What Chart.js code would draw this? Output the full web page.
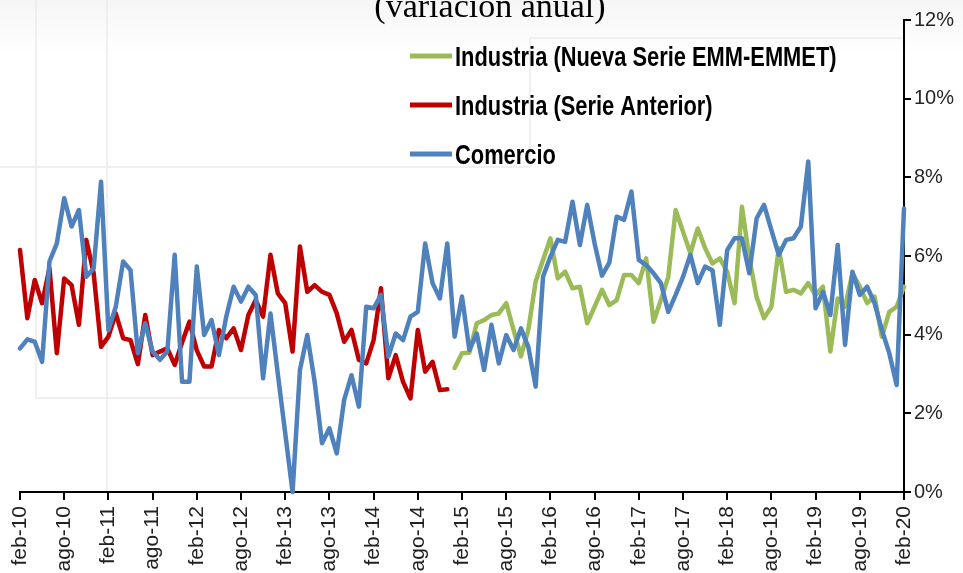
<!DOCTYPE html>
<html>
<head>
<meta charset="utf-8">
<script src="https://cdn.jsdelivr.net/npm/chart.js@4.4.1/dist/chart.umd.min.js"></script>
<style>
  html, body { margin: 0; padding: 0; background: #fff; overflow: hidden; }
  #grafico { display: block; }
</style>
</head>
<body>
<canvas id="grafico" width="963" height="573"></canvas>
<script>
const titulo = "(variación anual)";
const meses = ["ene", "feb", "mar", "abr", "may", "jun", "jul", "ago", "sep", "oct", "nov", "dic"];

// series mensuales desde feb-10
const comercio = [
    3.65, 3.88, 3.82, 3.31, 5.86, 6.32, 7.47, 6.75, 7.17, 5.47,
    5.69, 7.89, 4.12, 4.71, 5.86, 5.64, 3.53, 4.29, 3.57, 3.36,
    3.57, 6.03, 2.80, 2.80, 5.73, 3.99, 4.37, 3.48, 4.46, 5.22,
    4.84, 5.22, 5.01, 2.89, 4.54, 3.00, 1.50, 0.00, 3.10, 3.99,
    2.80, 1.24, 1.62, 0.98, 2.34, 2.97, 2.17, 4.71, 4.67, 5.01,
    3.44, 4.03, 3.86, 4.46, 4.58, 6.32, 5.31, 4.92, 6.32, 3.95,
    4.97, 3.61, 4.03, 3.10, 4.25, 3.27, 3.99, 3.61, 4.16, 3.69,
    2.68, 5.47, 5.98, 6.41, 6.36, 7.38, 6.28, 7.30, 6.32, 5.50,
    5.83, 7.00, 6.92, 7.64, 5.90, 5.77, 5.56, 5.31, 4.58, 5.01,
    5.47, 6.03, 5.31, 5.73, 5.64, 4.25, 6.15, 6.45, 6.45, 5.56,
    6.96, 7.30, 6.66, 6.03, 6.41, 6.45, 6.75, 8.40, 4.67, 5.09,
    4.50, 6.28, 3.74, 5.60, 5.01, 5.22, 4.80, 4.12, 3.53, 2.72, 7.21
];

// feb-10 a dic-14
const industriaAnterior = [
    6.15, 4.42, 5.39, 4.80, 5.69, 3.53, 5.43, 5.26, 4.25, 6.41,
    5.56, 3.69, 3.95, 4.54, 3.91, 3.86, 3.25, 4.50, 3.48, 3.57,
    3.65, 3.23, 3.80, 4.33, 3.60, 3.19, 3.19, 4.12, 3.91, 4.16,
    3.61, 4.50, 4.88, 4.46, 6.03, 5.05, 4.80, 3.57, 6.24, 5.09,
    5.26, 5.09, 5.01, 4.54, 3.82, 4.12, 3.36, 3.27, 3.86, 5.18,
    2.89, 3.48, 2.80, 2.38, 4.12, 3.06, 3.31, 2.59, 2.61
];

// ene-15 a feb-20
const industriaNueva = [
    3.15, 3.53, 3.54, 4.29, 4.37, 4.50, 4.54, 4.80, 4.12, 3.45,
    4.12, 5.35, 5.90, 6.45, 5.43, 5.60, 5.18, 5.22, 4.29, 4.71,
    5.14, 4.75, 4.88, 5.52, 5.52, 5.31, 5.94, 4.33, 4.88, 5.47,
    7.17, 6.62, 6.07, 6.70, 6.20, 5.81, 5.94, 5.60, 4.80, 7.25,
    5.95, 4.95, 4.42, 4.71, 6.20, 5.09, 5.14, 5.05, 5.31, 5.01,
    5.22, 3.57, 4.92, 4.71, 5.56, 5.22, 4.80, 4.97, 3.95, 4.58,
    4.71, 5.22
];

const ticksY = [0, 2, 4, 6, 8, 10, 12];

function armarEtiquetas(total){
    let etiquetas = [];
    for (let i = 0; i < total; i++) {
        let m = (1 + i) % 12;
        let anio = 10 + Math.floor((1 + i) / 12);
        etiquetas.push(meses[m] + "-" + anio);
    }
    return etiquetas;
}

const etiquetas = armarEtiquetas(comercio.length);

const fondoPlugin = {
    id: "fondo",
    beforeDraw(chart){
        const ctx = chart.ctx;
        ctx.save();
        let grad = ctx.createLinearGradient(0, 0, 0, 55);
        grad.addColorStop(0, "#f6f6f6");
        grad.addColorStop(1, "#ffffff");
        ctx.fillStyle = grad;
        ctx.fillRect(0, 0, chart.width, 55);
        ctx.strokeStyle = "#ebebeb";
        ctx.lineWidth = 1.5;
        ctx.beginPath();
        ctx.moveTo(36, 0); ctx.lineTo(36, 398);
        ctx.moveTo(107, 0); ctx.lineTo(107, 492);
        ctx.moveTo(0, 167); ctx.lineTo(530, 167);
        ctx.moveTo(36, 398); ctx.lineTo(293, 398);
        ctx.moveTo(530, 38); ctx.lineTo(530, 167);
        ctx.moveTo(530, 38); ctx.lineTo(903, 38);
        ctx.stroke();
        ctx.restore();
    }
};

const textosPlugin = {
    id: "textos",
    afterDraw(chart){
        const ctx = chart.ctx;
        ctx.save();
        ctx.font = '34px "Liberation Serif"';
        ctx.fillStyle = "#000";
        ctx.textAlign = "center";
        ctx.textBaseline = "alphabetic";
        ctx.fillText(titulo, 490, 17);
        ctx.restore();

        chart.data.datasets.forEach(function(ds, i){
            let y = 56 + i * 49;
            ctx.save();
            ctx.strokeStyle = ds.borderColor;
            ctx.lineWidth = 5;
            ctx.beginPath();
            ctx.moveTo(410, y);
            ctx.lineTo(452, y);
            ctx.stroke();
            ctx.translate(455, y + 10);
            ctx.scale(0.81, 1);
            ctx.font = 'bold 27px "Liberation Sans"';
            ctx.fillStyle = "#000";
            ctx.textAlign = "left";
            ctx.textBaseline = "alphabetic";
            ctx.fillText(ds.label, 0, 0);
            ctx.restore();
        });
    }
};

function graficoVariacion(){
    let grafico = document.getElementById("grafico").getContext("2d");
    let vacios = comercio.length - industriaAnterior.length;

    new Chart(grafico, {
        type: "line",
        data: {
            labels: etiquetas,
            datasets: [
                {
                    label: "Industria (Nueva Serie EMM-EMMET)",
                    data: new Array(comercio.length - industriaNueva.length).fill(null).concat(industriaNueva),
                    borderColor: "#9BBB59",
                    order: 3
                },
                {
                    label: "Industria (Serie Anterior)",
                    data: industriaAnterior.concat(new Array(vacios).fill(null)),
                    borderColor: "#C00000",
                    order: 2
                },
                {
                    label: "Comercio",
                    data: comercio,
                    borderColor: "#4F81BD",
                    order: 1
                }
            ]
        },
        options: {
            responsive: false,
            animation: false,
            layout: { padding: { left: 20, top: 20, right: 0, bottom: 0 } },
            elements: {
                line: { borderWidth: 4.5, tension: 0, fill: false, borderCapStyle: "round", borderJoinStyle: "round" },
                point: { radius: 0 }
            },
            datasets: { line: { clip: false, spanGaps: false } },
            plugins: {
                legend: { display: false },
                tooltip: { enabled: false }
            },
            scales: {
                x: {
                    offset: false,
                    afterFit: function(s){ s.height = 81; },
                    grid: {
                        drawOnChartArea: false,
                        drawTicks: true,
                        tickLength: 8,
                        lineWidth: 2,
                        color: function(c){ return c.index % 6 === 0 ? "#000" : "rgba(0,0,0,0)"; }
                    },
                    border: { display: true, color: "#000", width: 2 },
                    ticks: {
                        autoSkip: false,
                        maxRotation: 90,
                        minRotation: 90,
                        padding: 6,
                        color: "#222",
                        font: { family: "Liberation Sans", size: 21 },
                        callback: function(v, i){ return i % 6 === 0 ? etiquetas[i] : ""; }
                    }
                },
                y: {
                    position: "right",
                    min: ticksY[0],
                    max: ticksY[ticksY.length - 1],
                    afterFit: function(s){ s.width = 59; },
                    afterBuildTicks: function(s){ s.ticks = ticksY.map(function(v){ return { value: v }; }); },
                    grid: {
                        drawOnChartArea: false,
                        drawTicks: true,
                        tickLength: 7,
                        lineWidth: 2,
                        color: "#000"
                    },
                    border: { display: true, color: "#000", width: 2 },
                    ticks: {
                        padding: 3,
                        color: "#262626",
                        font: { family: "Liberation Sans", size: 20 },
                        callback: function(v){ return v + "%"; }
                    }
                }
            }
        },
        plugins: [fondoPlugin, textosPlugin]
    });
}

graficoVariacion();
</script>
</body>
</html>
